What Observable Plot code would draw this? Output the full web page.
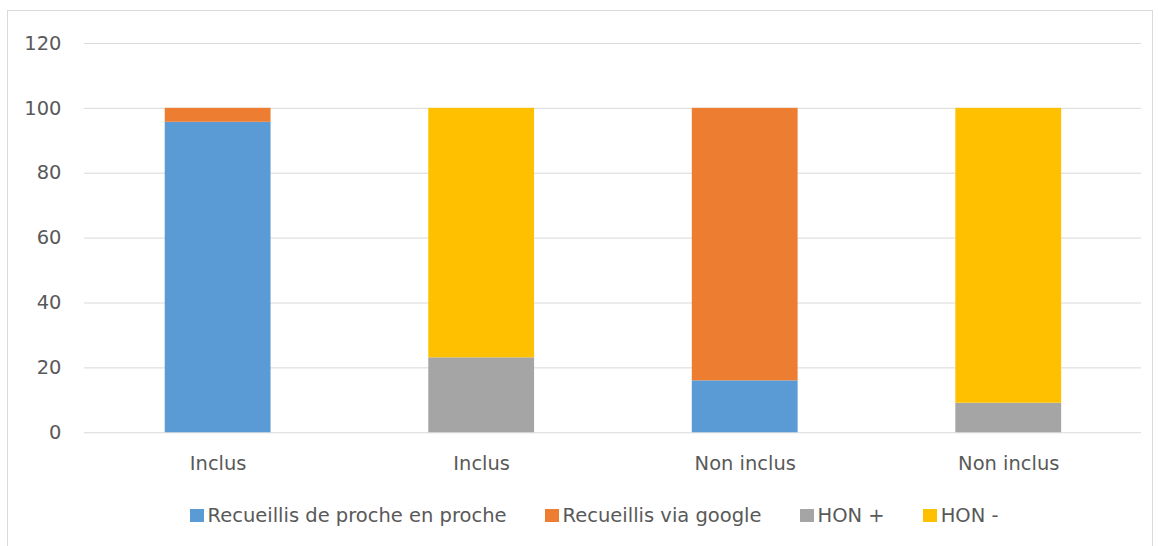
<!DOCTYPE html>
<html>
<head>
<meta charset="utf-8">
<script src="https://cdn.jsdelivr.net/npm/d3@7"></script>
<script src="https://cdn.jsdelivr.net/npm/@observablehq/plot@0.6"></script>
<style>
  html, body { margin: 0; padding: 0; background: #fff; }
  #frame { position: absolute; left: 7px; top: 10px; width: 1146px; height: 545px; border: 1px solid #d9d9d9; box-sizing: border-box; }
  #chart svg { display: block; }
  #legend { position: absolute; left: 6px; top: 493px; width: 1160px; display: flex; justify-content: center; align-items: center; font-family: "DejaVu Sans", sans-serif; font-size: 19.5px; color: #595959; }
  .item { display: flex; align-items: center; margin: 0 19px; }
  .sw { width: 14px; height: 13px; margin-right: 4px; }
</style>
</head>
<body>
<div id="frame"><div id="chart"></div><div id="legend"></div></div>
<script>
const categories = ["Inclus", "Inclus", "Non inclus", "Non inclus"];
const seriesNames = ["Recueillis de proche en proche", "Recueillis via google", "HON +", "HON -"];
const seriesColors = ["#5B9BD5", "#ED7D31", "#A5A5A5", "#FFC000"];
const procheValues = [95.7, 0, 16.0, 0];
const googleValues = [4.3, 0, 84.0, 0];
const honPlusValues = [0, 23.1, 0, 9.1];
const honMoinsValues = [0, 76.9, 0, 90.9];
const yTicks = [0, 20, 40, 60, 80, 100, 120];

const seriesValues = [procheValues, googleValues, honPlusValues, honMoinsValues];
const rows = [];
categories.forEach((c, i) => {
  seriesNames.forEach((s, k) => {
    const v = seriesValues[k][i];
    if (v > 0) rows.push({idx: i, series: s, value: v});
  });
});

const chart = Plot.plot({
  width: 1146,
  height: 470,
  marginLeft: 76,
  marginRight: 11,
  marginTop: 32,
  marginBottom: 48,
  style: {fontFamily: "DejaVu Sans, sans-serif", fontSize: "19.5px", color: "#595959", background: "#fff"},
  x: {type: "band", domain: [0, 1, 2, 3], paddingInner: 0.6, paddingOuter: 0.3, label: null},
  y: {domain: [0, 120], label: null},
  color: {domain: seriesNames, range: seriesColors},
  marks: [
    Plot.gridY(yTicks, {stroke: "#d9d9d9", strokeOpacity: 1, strokeWidth: 1}),
    Plot.barY(rows, Plot.stackY({x: "idx", y: "value", fill: "series", order: seriesNames})),
    Plot.axisY(yTicks, {tickSize: 0, tickPadding: 23, label: null, fill: "#595959"}),
    Plot.axisX({tickSize: 0, tickPadding: 23, label: null, tickFormat: i => categories[i], fill: "#595959"})
  ]
});
document.getElementById("chart").appendChild(chart);

const legend = document.getElementById("legend");
seriesNames.forEach((s, k) => {
  const item = document.createElement("div");
  item.className = "item";
  const sw = document.createElement("div");
  sw.className = "sw";
  sw.style.background = seriesColors[k];
  const t = document.createElement("span");
  t.textContent = s;
  item.appendChild(sw);
  item.appendChild(t);
  legend.appendChild(item);
});
</script>
</body>
</html>
